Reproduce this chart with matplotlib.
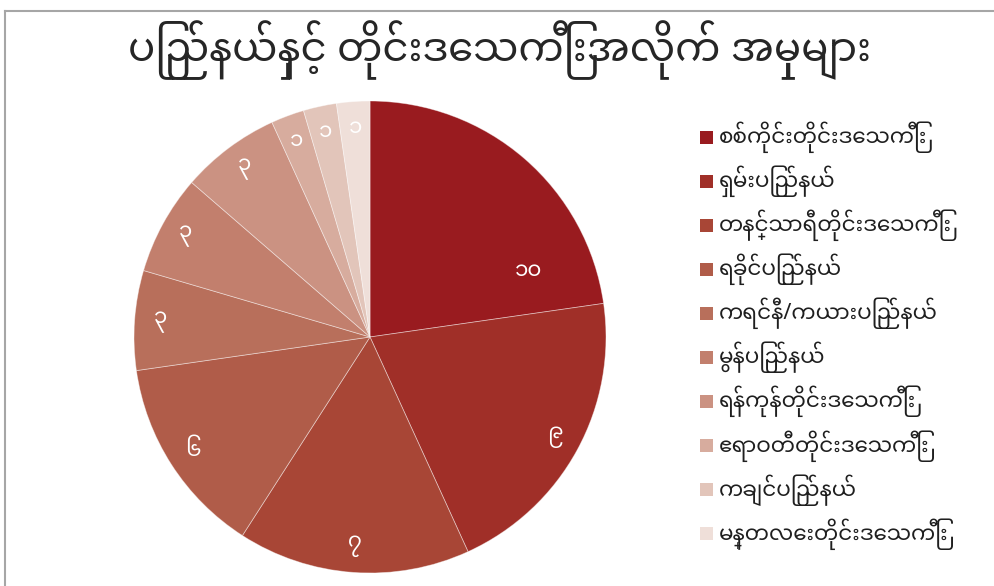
import matplotlib
matplotlib.use("Agg")
import numpy as np
import matplotlib.pyplot as plt
from matplotlib.patches import Rectangle
from matplotlib.lines import Line2D

W, H = 995, 586

title = "ပြည်နယ်နှင့် တိုင်းဒေသကြီးအလိုက် အမှုများ"
regions = [
    "စစ်ကိုင်းတိုင်းဒေသကြီး",
    "ရှမ်းပြည်နယ်",
    "တနင်္သာရီတိုင်းဒေသကြီး",
    "ရခိုင်ပြည်နယ်",
    "ကရင်နီ/ကယားပြည်နယ်",
    "မွန်ပြည်နယ်",
    "ရန်ကုန်တိုင်းဒေသကြီး",
    "ဧရာဝတီတိုင်းဒေသကြီး",
    "ကချင်ပြည်နယ်",
    "မန္တလေးတိုင်းဒေသကြီး",
]
cases = [10, 9, 7, 6, 3, 3, 3, 1, 1, 1]
case_labels = ["၁၀", "၉", "၇", "၆", "၃", "၃", "၃", "၁", "၁", "၁"]
colors = ["#991b1f", "#a02f28", "#a84636", "#b05c49", "#b86f5b",
          "#c27f6d", "#cb9282", "#d7ac9e", "#e2c5ba", "#efdfd9"]

FONT = ["Noto Sans Myanmar", "DejaVu Sans"]

fig = plt.figure(figsize=(W / 100, H / 100), dpi=100)

# chart border (only top and left edges are inside the crop)
fig.add_artist(Line2D([5 / W, 1], [1 - 11 / H, 1 - 11 / H], color="#a6a6a6", lw=1.5))
fig.add_artist(Line2D([5 / W, 5 / W], [0, 1 - 11 / H], color="#a6a6a6", lw=1.5))

cx, cy, r = 370, 337, 236
ax = fig.add_axes([(cx - r) / W, (H - cy - r) / H, 2 * r / W, 2 * r / H])
wedges, _ = ax.pie(cases, colors=colors, startangle=90, counterclock=False,
                   radius=1, wedgeprops=dict(edgecolor=(1, 1, 1, 0.45), linewidth=0.6))
ax.set_xlim(-1, 1)
ax.set_ylim(-1, 1)
ax.set_aspect("equal")
ax.axis("off")

# excel "best fit" moved the biggest label inwards
override = {0: (0.73, 22.7)}
for i, (w, lab) in enumerate(zip(wedges, case_labels)):
    rr, ang = override.get(i, (0.89, (w.theta1 + w.theta2) / 2))
    a = np.deg2rad(ang)
    ax.text(rr * np.cos(a), rr * np.sin(a), lab, ha="center", va="center",
            color="white", fontsize=15.5, family=FONT)

fig.text(500 / W, 1 - 50 / H, title, ha="center", va="center",
         fontsize=29, color="#262626", family=FONT)

y0, step, sq = 137, 44.1, 13
for i, (name, c) in enumerate(zip(regions, colors)):
    y = y0 + i * step
    fig.add_artist(Rectangle((700 / W, 1 - (y + sq / 2) / H), sq / W, sq / H,
                             facecolor=c, edgecolor="none"))
    fig.text(719 / W, 1 - y / H, name, ha="left", va="center",
             fontsize=15.5, color="#1f1f1f", family=FONT)

fig.savefig("out.png", dpi=100)
